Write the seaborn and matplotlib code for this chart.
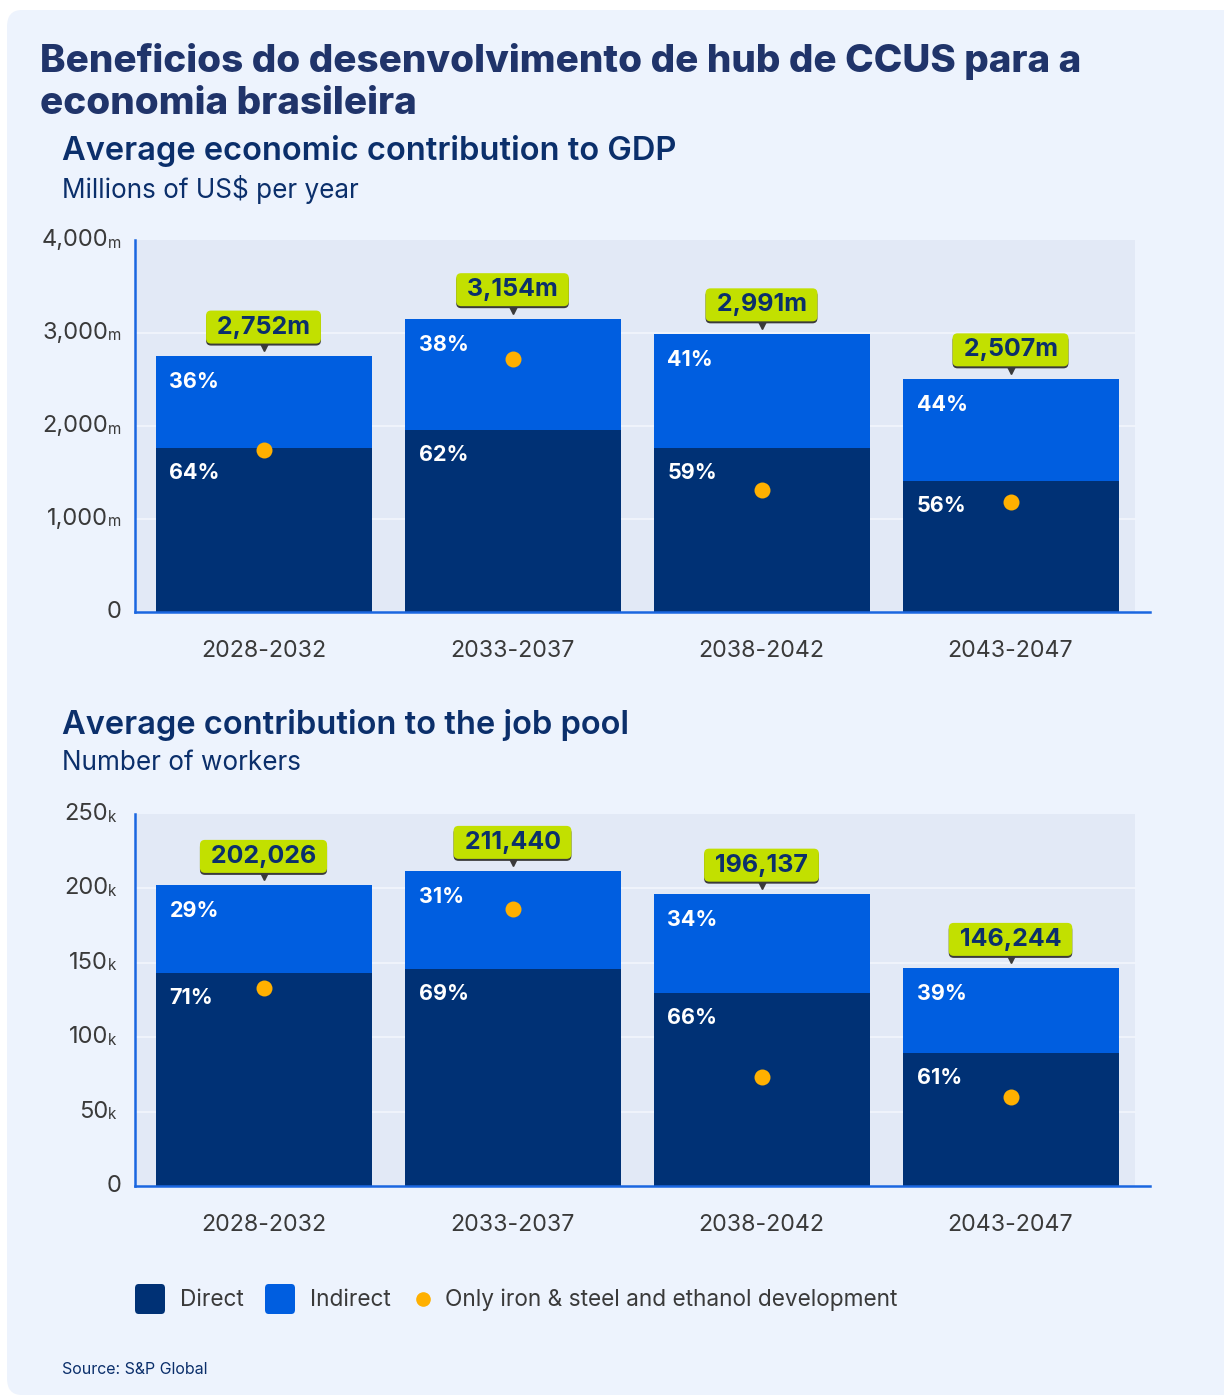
import matplotlib
matplotlib.use("Agg")
import matplotlib.pyplot as plt
import matplotlib.transforms as mtrans
from matplotlib.patches import FancyBboxPatch
import seaborn as sns
import pandas as pd

# ---------------- data ----------------
periods = ["2028-2032", "2033-2037", "2038-2042", "2043-2047"]
gdp_total = [2752, 3154, 2991, 2507]
gdp_direct_pct = [64, 62, 59, 56]
gdp_indirect_pct = [36, 38, 41, 44]
gdp_dots = [1745, 2720, 1310, 1185]
gdp_labels = ["2,752m", "3,154m", "2,991m", "2,507m"]

job_total = [202026, 211440, 196137, 146244]
job_direct_pct = [71, 69, 66, 61]
job_indirect_pct = [29, 31, 34, 39]
job_dots = [133000, 186000, 73000, 60000]
job_labels = ["202,026", "211,440", "196,137", "146,244"]

gdp_ticks = [0, 1000, 2000, 3000, 4000]
gdp_tick_labels = ["0", "1,000", "2,000", "3,000", "4,000"]
job_ticks = [0, 50000, 100000, 150000, 200000, 250000]
job_tick_labels = ["0", "50", "100", "150", "200", "250"]

# ---------------- style ----------------
sns.set_theme(style="white")
FONT = ["Inter", "DejaVu Sans"]
plt.rcParams["font.family"] = FONT

C_DIRECT = "#003175"
C_INDIRECT = "#005EE0"
C_DOT = "#FFB000"
C_LIME = "#C2E000"
C_CARD = "#EDF3FD"
C_PLOT = "#E2E9F6"
C_AXIS = "#1A66E0"
C_TITLE = "#20346A"
C_SUB = "#0B2F6B"
C_TICK = "#3A3A3A"

W, H = 1224, 1397
fig = plt.figure(figsize=(W / 100, H / 100), dpi=100)
fig.patch.set_facecolor("white")

card = FancyBboxPatch((7 / W, 2 / H), 1.05 - 7 / W, (1387 - 2) / H,
                      boxstyle="round,pad=0,rounding_size=0.012",
                      transform=fig.transFigure, facecolor=C_CARD,
                      edgecolor="none", zorder=-10)
fig.patches.append(card)


def fx(px):
    return px / W


def fy(py):
    return 1 - py / H


fig.text(fx(40), fy(61), "Beneficios do desenvolvimento de hub de CCUS para a",
         fontsize=27.8, fontweight="heavy", color=C_TITLE, va="center", ha="left")
fig.text(fx(40), fy(104), "economia brasileira",
         fontsize=27.8, fontweight="heavy", color=C_TITLE, va="center", ha="left")


def make_panel(top_px, bot_px, totals, dpct, dots, labels, ticks, tlabels, unit,
               title, subtitle, title_y, sub_y):
    fig.text(fx(62), fy(title_y), title, fontsize=23.5, fontweight="semibold",
             color=C_SUB, va="center", ha="left")
    fig.text(fx(62), fy(sub_y), subtitle, fontsize=18.8, color=C_SUB,
             va="center", ha="left")

    left_px, right_px = 135, 1150
    ax = fig.add_axes([fx(left_px), fy(bot_px), fx(right_px - left_px),
                       (bot_px - top_px) / H])
    ax.set_facecolor("none")

    cat_w = 249.0
    x0 = -0.5 - 4 / cat_w
    x1 = 3.5 + 15 / cat_w
    ymax = ticks[-1]

    direct = [t * p / 100 for t, p in zip(totals, dpct)]
    df = pd.DataFrame({"period": periods, "total": totals, "direct": direct,
                       "dot": dots})

    ax.axvspan(x0, 3.5, ymin=0, ymax=1, color=C_PLOT, zorder=0, lw=0)
    for t in ticks[1:-1]:
        ax.plot([x0, 3.5], [t, t], color="#F1F5FC", lw=1.3, zorder=0.5)

    bw = 216 / cat_w
    sns.barplot(data=df, x="period", y="total", color=C_INDIRECT, width=bw,
                saturation=1, ax=ax, zorder=2, edgecolor="none")
    sns.barplot(data=df, x="period", y="direct", color=C_DIRECT, width=bw,
                saturation=1, ax=ax, zorder=3, edgecolor="none")
    sns.stripplot(data=df, x="period", y="dot", jitter=False, color=C_DOT,
                  size=11.5, linewidth=0, ax=ax, zorder=5)

    ax.set_xlim(x0, x1)
    ax.set_ylim(0, ymax)
    ax.set_xlabel("")
    ax.set_ylabel("")

    for s in ["top", "right"]:
        ax.spines[s].set_visible(False)
    for s in ["left", "bottom"]:
        ax.spines[s].set_color(C_AXIS)
        ax.spines[s].set_linewidth(1.8)
        ax.spines[s].set_zorder(6)

    ax.set_xticks(range(len(periods)))
    ax.set_xticklabels(periods, fontsize=16.7, color=C_TICK)
    ax.tick_params(axis="x", length=0, pad=20)
    ax.set_xticks([0.5, 1.5, 2.5, 3.5], minor=True)
    ax.tick_params(axis="x", which="minor", length=5, width=1.5, color=C_AXIS,
                   direction="out")

    ax.set_yticks(ticks)
    ax.set_yticklabels([])
    ax.tick_params(axis="y", length=6, width=1.5, color=C_AXIS, direction="out")
    tr = mtrans.blended_transform_factory(ax.transAxes, ax.transData)
    for t, lab in zip(ticks, tlabels):
        if t == 0:
            ax.annotate(lab, xy=(0, t), xycoords=tr, xytext=(-13, 0),
                        textcoords="offset pixels", ha="right", va="center",
                        fontsize=17, color=C_TICK, annotation_clip=False)
        else:
            ax.annotate(lab, xy=(0, t), xycoords=tr, xytext=(-27, 0),
                        textcoords="offset pixels", ha="right", va="center",
                        fontsize=17, color=C_TICK, annotation_clip=False)
            ax.annotate(unit, xy=(0, t), xycoords=tr, xytext=(-27, -3),
                        textcoords="offset pixels", ha="left", va="center",
                        fontsize=11, color=C_TICK, annotation_clip=False)

    for i, (tot, d, dp) in enumerate(zip(totals, direct, dpct)):
        ip = 100 - dp
        ax.annotate(f"{ip}%", xy=(i - bw / 2, tot), xytext=(14, -26),
                    textcoords="offset pixels", ha="left", va="center",
                    fontsize=15.5, fontweight="bold", color="white", zorder=7)
        ax.annotate(f"{dp}%", xy=(i - bw / 2, d), xytext=(14, -25),
                    textcoords="offset pixels", ha="left", va="center",
                    fontsize=15.5, fontweight="bold", color="white", zorder=7)
        ax.plot([i], [tot], marker="v", markersize=7, color="#3A3A3A",
                transform=ax.transData + mtrans.ScaledTranslation(0, 10 / 100, fig.dpi_scale_trans),
                zorder=7, clip_on=False)
        txt = " " + labels[i] + " "
        ax.annotate(txt, xy=(i, tot), xytext=(0, 27),
                    textcoords="offset pixels", ha="center", va="center",
                    fontsize=18, fontweight="bold", color="#3A3A3A", zorder=7,
                    bbox=dict(boxstyle="round,pad=0.2,rounding_size=0.2",
                              fc="#3A3A3A", ec="none"))
        ax.annotate(txt, xy=(i, tot), xytext=(0, 29),
                    textcoords="offset pixels", ha="center", va="center",
                    fontsize=18, fontweight="bold", color=C_SUB, zorder=8,
                    bbox=dict(boxstyle="round,pad=0.2,rounding_size=0.2",
                              fc=C_LIME, ec="none"))
    return ax


make_panel(240, 612, gdp_total, gdp_direct_pct, gdp_dots, gdp_labels,
           gdp_ticks, gdp_tick_labels, "m",
           "Average economic contribution to GDP", "Millions of US$ per year",
           151, 190)
make_panel(814, 1186, job_total, job_direct_pct, job_dots, job_labels,
           job_ticks, job_tick_labels, "k",
           "Average contribution to the job pool", "Number of workers",
           725, 763)

for px, col in [(150, C_DIRECT), (280, C_INDIRECT)]:
    sq = FancyBboxPatch((fx(px - 15), fy(1314)), 30 / W, 30 / H,
                        boxstyle="round,pad=0,rounding_size=0.003",
                        transform=fig.transFigure, facecolor=col,
                        edgecolor="none")
    fig.patches.append(sq)
fig.text(fx(180), fy(1300), "Direct", fontsize=16.3, color=C_TICK, va="center")
fig.text(fx(310), fy(1300), "Indirect", fontsize=16.3, color=C_TICK, va="center")
dot_ax = fig.add_axes([0, 0, 1, 1], facecolor="none")
dot_ax.set_axis_off()
dot_ax.set_xlim(0, 1)
dot_ax.set_ylim(0, 1)
dot_ax.plot([fx(423)], [fy(1299)], marker="o", markersize=9.5, color=C_DOT, lw=0)
fig.text(fx(445), fy(1300), "Only iron & steel and ethanol development",
         fontsize=16.3, color=C_TICK, va="center")

fig.text(fx(62), fy(1370), "Source: S&P Global", fontsize=11.5, color=C_SUB,
         va="center")

fig.savefig("out.png", dpi=100, facecolor="white")
